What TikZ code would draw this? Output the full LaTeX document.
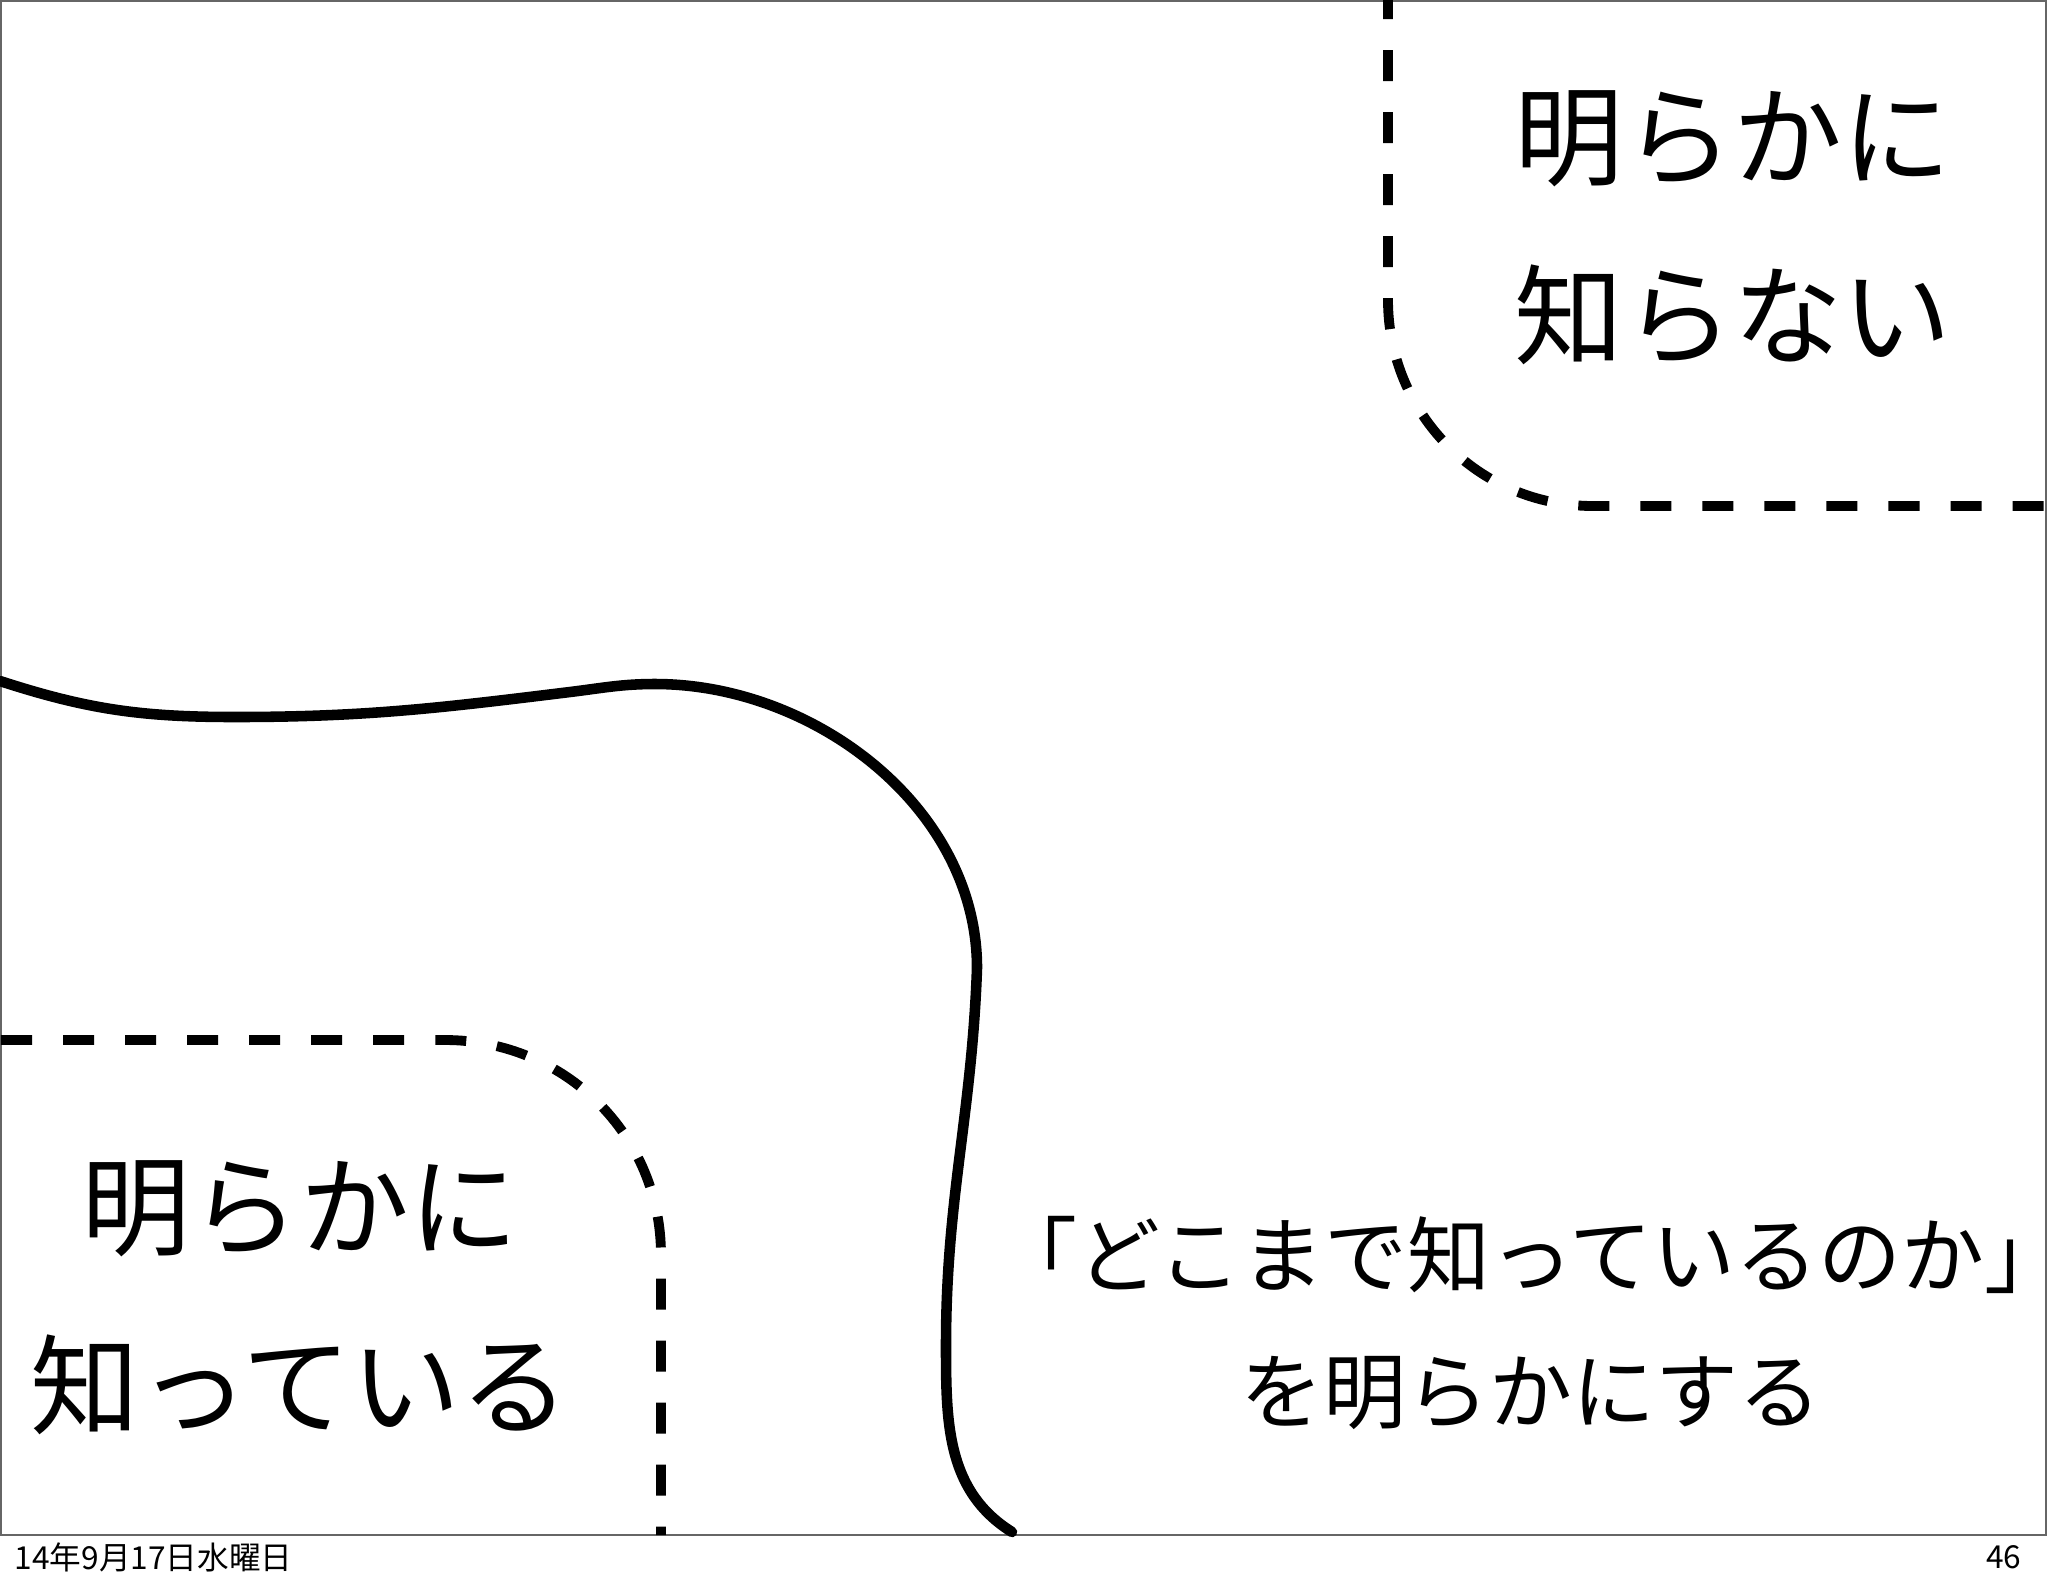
\documentclass[tikz,border=0pt]{standalone}
\usepackage{fontspec}
\setmainfont{Noto Sans CJK JP}

\begin{document}
\begin{tikzpicture}[
    x=0.01cm, y=-0.01cm,
    slideframe/.style={
        draw=black!60,
        line width=0.6pt
    },
    edgeline/.style={
        line width=2.8pt,
        dash pattern=on 0.31cm off 0.31cm
    },
    divider/.style={
        line width=3pt,
        line cap=round
    },
    bigtxt/.style={
        font=\fontsize{31}{51}\selectfont,
        align=center
    },
    midtxt/.style={
        font=\fontsize{23.6}{38.4}\selectfont,
        align=center,
        inner sep=0pt
    },
    foot/.style={
        font=\fontsize{9}{11}\selectfont,
        inner sep=0pt
    }
]
\useasboundingbox (0,0) rectangle (2048,1587);

% Slide frame
\draw[slideframe] (1,1) rectangle (2046,1535);

% Dashed regions
\draw[edgeline, dash phase=0.12cm] (1388,0) -- (1388,300)
    .. controls (1388,413) and (1478,506) .. (1593,506) -- (2046,506);
\draw[edgeline] (1,1040) -- (445,1040)
    .. controls (565,1040) and (661,1135) .. (661,1255) -- (661,1535);

% Free-hand divider
\draw[divider] (0,681) to[out=-18, in=180] (235,717)
    to[out=0, in=-173] (570,692)
    to[out=7, in=180] (655,684)
    to[out=0, in=90, looseness=0.95] (977,968)
    to[out=-92, in=90] (946,1345)
    to[out=-90, in=148] (1012,1532);

% Texts
\node[bigtxt] (unknown) at (1733,228) {明らかに\\知らない};
\node[bigtxt] (known)   at (300,1298) {明らかに\\知っている};
\node[midtxt] (goal)    at (1531,1323) {「どこまで知っているのか」\\を明らかにする};

% Footer
\node[foot, anchor=west] (date) at (14,1557)   {14年9月17日水曜日};
\node[foot, anchor=east] (page) at (2022,1557) {46};

\end{tikzpicture}
\end{document}
